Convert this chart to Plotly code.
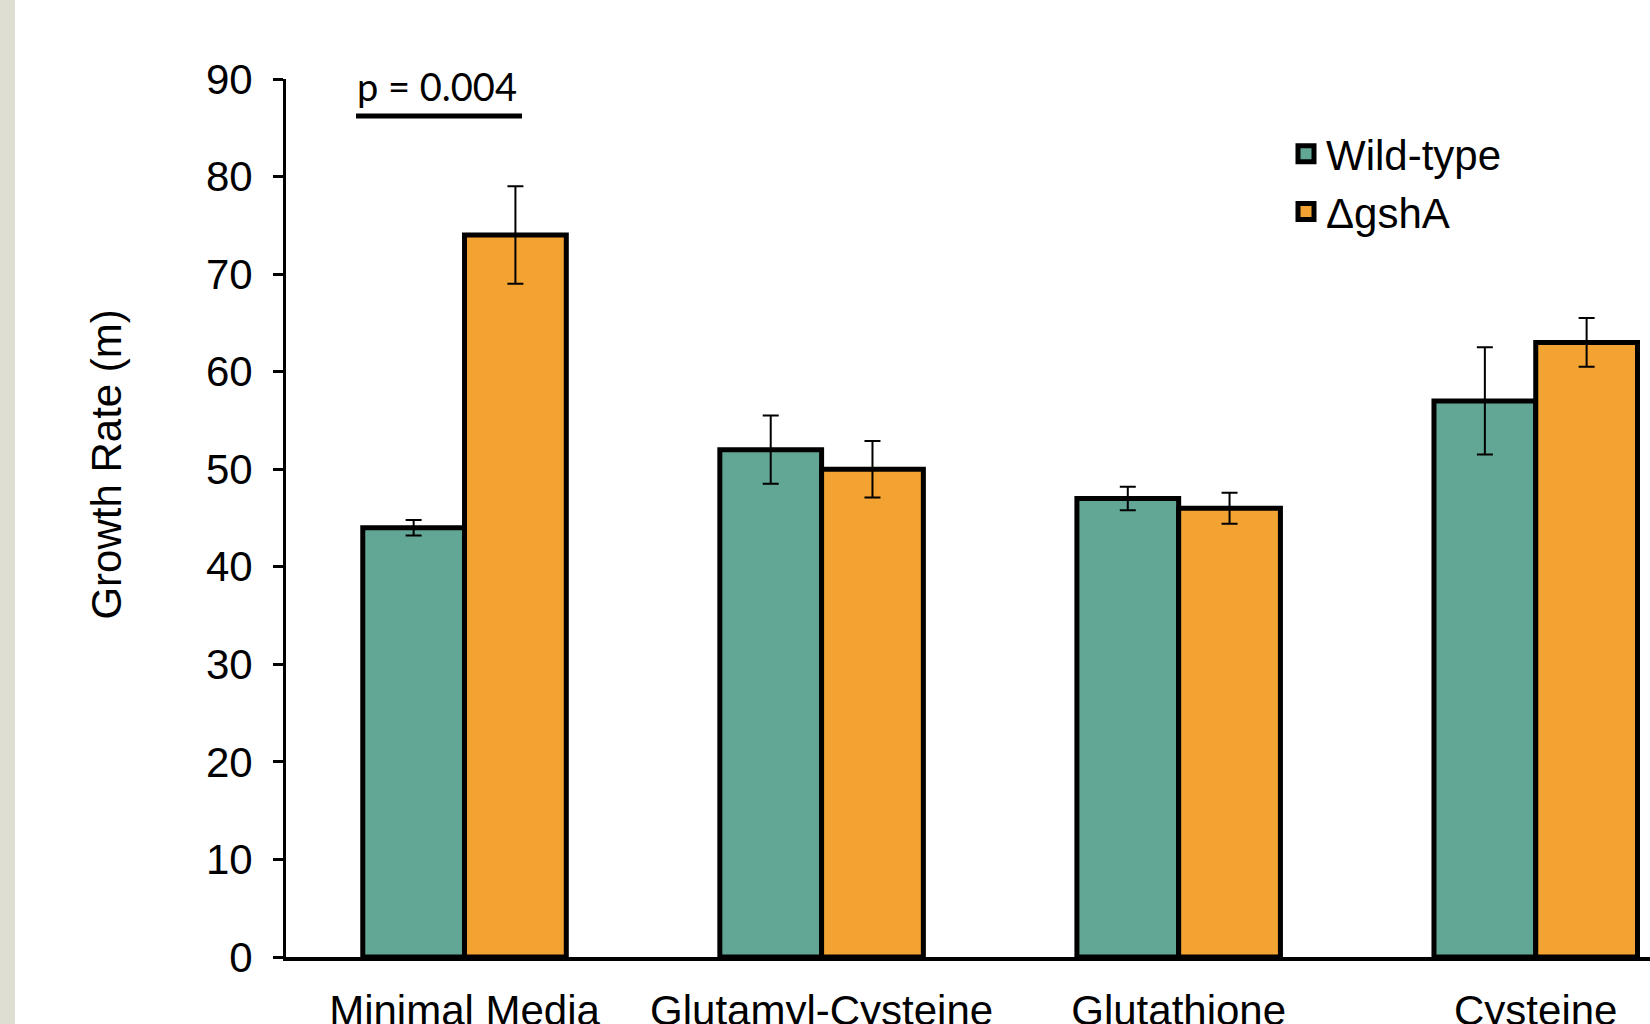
import plotly.graph_objects as go

categories = ["Minimal Media", "Glutamyl-Cysteine", "Glutathione", "Cysteine"]
wild_type = [44, 52, 47, 57]
wild_type_err = [0.8, 3.5, 1.2, 5.5]
gsha = [74, 50, 46, 63]
gsha_err = [5.0, 2.9, 1.6, 2.5]
series_names = ["Wild-type", "ΔgshA"]
y_ticks = [0, 10, 20, 30, 40, 50, 60, 70, 80, 90]

GREEN = "#62A795"
ORANGE = "#F3A332"
FONT = "Liberation Sans, Arial, Helvetica, sans-serif"

W, H = 1650, 1024
L, R, T, B = 286, 0, 79, 67
plot_w = W - L - R
plot_h = H - T - B

def px_to_paper_x(px):
    return (px - L) / plot_w

def px_to_paper_y(py):
    return (H - B - py) / plot_h

fig = go.Figure()
for vals, errs, col in [(wild_type, wild_type_err, GREEN), (gsha, gsha_err, ORANGE)]:
    fig.add_trace(go.Bar(
        x=categories, y=vals,
        marker=dict(color=col, line=dict(color="black", width=5)),
        error_y=dict(type="data", array=errs, visible=True, color="black",
                     thickness=2, width=8),
        showlegend=False,
    ))

# legend entries
for name, col in zip(series_names, [GREEN, ORANGE]):
    fig.add_trace(go.Scatter(
        x=[None], y=[None], mode="markers", name=name,
        marker=dict(symbol="square", size=16, color=col,
                    line=dict(color="black", width=5)),
    ))

# grey strip on the left
fig.add_shape(type="rect", xref="paper", yref="paper",
              x0=px_to_paper_x(0), x1=px_to_paper_x(15), y0=-0.2, y1=1.2,
              fillcolor="#DEDFD2", line=dict(width=0), layer="below")

# significance line and label
fig.add_shape(type="line", xref="paper", yref="y",
              x0=px_to_paper_x(356), x1=px_to_paper_x(522), y0=86.2, y1=86.2,
              line=dict(color="black", width=5))
fig.add_annotation(text="p = 0.004", xref="paper", yref="paper",
                   x=px_to_paper_x(437), y=px_to_paper_y(86), xanchor="center", yanchor="middle",
                   showarrow=False,
                   font=dict(family="Lato, Open Sans, sans-serif", size=38, color="black"))

# y-axis title
fig.add_annotation(text="Growth Rate (m)", xref="paper", yref="paper",
                   x=px_to_paper_x(107), y=px_to_paper_y(464.6), textangle=-90,
                   xanchor="center", yanchor="middle",
                   showarrow=False, font=dict(family=FONT, size=42, color="black"))

fig.update_layout(
    width=W, height=H,
    margin=dict(l=L, r=R, t=T, b=B, pad=0, autoexpand=False),
    plot_bgcolor="white", paper_bgcolor="white",
    barmode="group", bargap=0.43, bargroupgap=0,
    font=dict(family=FONT, size=42, color="black"),
    legend=dict(x=px_to_paper_x(1286), y=px_to_paper_y(120), xanchor="left", yanchor="top",
                font=dict(family=FONT, size=42, color="black"),
                bgcolor="rgba(0,0,0,0)", itemwidth=30, tracegroupgap=0),
    xaxis=dict(range=[-0.5, 3.32], showline=True, linecolor="black", linewidth=4,
               ticks="", showgrid=False, zeroline=False, ticklabelstandoff=14,
               automargin=False,
               tickfont=dict(family=FONT, size=42, color="black")),
    yaxis=dict(range=[0, 90], tickvals=y_ticks, showline=True, linecolor="black",
               linewidth=3, ticks="outside", ticklen=10, tickwidth=3, tickcolor="black",
               showgrid=False, zeroline=False, ticklabelstandoff=12, automargin=False,
               tickfont=dict(family=FONT, size=42, color="black")),
)

fig.write_html("out.html", config={"displayModeBar": False},
               post_script="document.body.style.margin='0';")
